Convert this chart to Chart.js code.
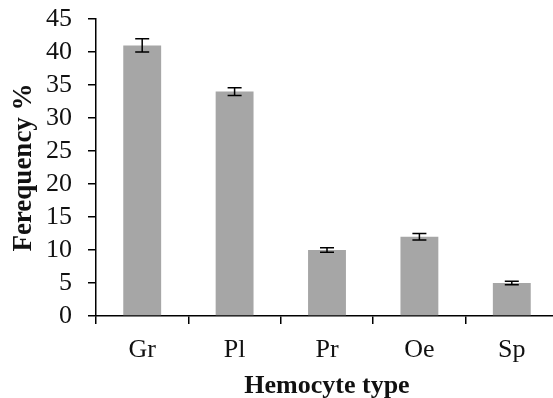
<!DOCTYPE html>
<html>
<head>
<meta charset="utf-8">
<script src="https://cdn.jsdelivr.net/npm/chart.js@4"></script>
<style>
html,body{margin:0;padding:0;background:#fff;overflow:hidden;}
#wrap{width:560px;height:398px;}
</style>
</head>
<body>
<div id="wrap"><canvas id="c" width="560" height="398"></canvas></div>
<script>
const categories = ["Gr", "Pl", "Pr", "Oe", "Sp"];
const frequency = [41, 34, 10, 12, 5];
const errors = [1, 0.6, 0.35, 0.5, 0.25];
const yTicks = [0, 5, 10, 15, 20, 25, 30, 35, 40, 45];

const errorBars = {
  id: 'errorBars',
  afterDatasetsDraw(chart) {
    const ctx = chart.ctx;
    const meta = chart.getDatasetMeta(0);
    const y = chart.scales.y;
    ctx.save();
    ctx.strokeStyle = '#000';
    ctx.lineWidth = 1.5;
    meta.data.forEach((bar, i) => {
      const v = frequency[i], e = errors[i];
      const yTop = y.getPixelForValue(v + e);
      const yBot = y.getPixelForValue(v - e);
      const x = bar.x;
      const w = 7;
      ctx.beginPath();
      ctx.moveTo(x, yTop); ctx.lineTo(x, yBot);
      ctx.moveTo(x - w, yTop); ctx.lineTo(x + w, yTop);
      ctx.moveTo(x - w, yBot); ctx.lineTo(x + w, yBot);
      ctx.stroke();
    });
    ctx.restore();
  }
};

new Chart(document.getElementById('c'), {
  type: 'bar',
  data: {
    labels: categories,
    datasets: [{
      data: frequency,
      backgroundColor: '#a6a6a6',
      borderWidth: 0,
      barPercentage: 0.41,
      categoryPercentage: 1
    }]
  },
  options: {
    responsive: false,
    animation: false,
    devicePixelRatio: 1,
    layout: { padding: { top: 19, right: 2, left: 0, bottom: 0 } },
    plugins: { legend: { display: false }, tooltip: { enabled: false } },
    scales: {
      x: {
        afterFit(s) { s.height = 82; s.paddingLeft = 0; s.paddingRight = 0; },
        grid: { display: true, drawOnChartArea: false, drawTicks: true, tickLength: 8, color: '#000', lineWidth: 1.5, offset: true },
        border: { display: true, color: '#000', width: 1.5 },
        ticks: { color: '#111', padding: 11, font: { family: 'Liberation Serif', size: 26 } },
        title: { display: true, text: 'Hemocyte type', color: '#111', padding: { top: 0, bottom: -1 }, font: { family: 'Liberation Serif', size: 26, weight: 'bold', lineHeight: 1 } }
      },
      y: {
        min: 0, max: 45,
        afterFit(s) { s.width = 96; s.paddingTop = 0; s.paddingBottom = 0; },
        afterBuildTicks(s) { s.ticks = yTicks.map(v => ({ value: v })); },
        grid: { display: true, drawOnChartArea: false, drawTicks: true, tickLength: 8, color: '#000', lineWidth: 1.5 },
        border: { display: true, color: '#000', width: 1.5 },
        ticks: { color: '#111', padding: 16, autoSkip: false, font: { family: 'Liberation Serif', size: 26 } },
        title: { display: true, text: 'Ferequency %', color: '#111', padding: { top: 8, bottom: 0 }, font: { family: 'Liberation Serif', size: 27, weight: 'bold', lineHeight: 1.2 } }
      }
    }
  },
  plugins: [errorBars]
});
</script>
</body>
</html>
